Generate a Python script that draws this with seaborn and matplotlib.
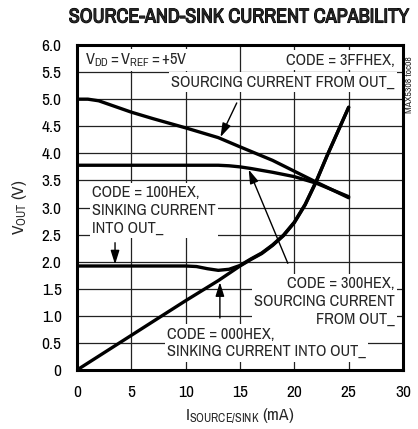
import matplotlib
matplotlib.use("Agg")
import matplotlib.pyplot as plt
import matplotlib.patheffects as pe
import seaborn as sns
import pandas as pd
from matplotlib import font_manager

# ---- data ----
i_3ff = [0, 1, 2, 3, 5, 7, 10, 13, 15, 18, 20, 22, 25]
v_3ff = [5.0, 5.0, 4.97, 4.9, 4.76, 4.64, 4.47, 4.29, 4.12, 3.87, 3.67, 3.47, 3.18]

i_300 = [0, 5, 10, 13, 14, 15, 16, 18, 20, 22, 25]
v_300 = [3.78, 3.78, 3.78, 3.78, 3.77, 3.75, 3.72, 3.65, 3.57, 3.45, 3.20]

i_100 = [0, 5, 10, 11, 12, 13, 14, 15, 16, 17, 18, 19, 20, 21, 22, 23, 24, 25]
v_100 = [1.92, 1.92, 1.92, 1.91, 1.87, 1.84, 1.86, 1.93, 2.05, 2.16, 2.31, 2.49, 2.73, 3.06, 3.48, 3.95, 4.4, 4.85]

i_000 = [0, 5, 10, 13, 15, 16, 17, 18, 19, 20, 21, 22, 23, 24, 25]
v_000 = [0.0, 0.64, 1.28, 1.65, 1.92, 2.04, 2.15, 2.30, 2.48, 2.72, 3.05, 3.47, 3.95, 4.4, 4.85]

x_ticks = [0, 5, 10, 15, 20, 25, 30]
y_ticks = [0, 0.5, 1.0, 1.5, 2.0, 2.5, 3.0, 3.5, 4.0, 4.5, 5.0, 5.5, 6.0]
y_tick_labels = ["0", "0.5", "1.0", "1.5", "2.0", "2.5", "3.0", "3.5", "4.0", "4.5", "5.0", "5.5", "6.0"]

frames = []
for name, i, v in [("3FF", i_3ff, v_3ff), ("300", i_300, v_300),
                   ("100", i_100, v_100), ("000", i_000, v_000)]:
    frames.append(pd.DataFrame({"I": i, "V": v, "code": name}))
df = pd.concat(frames, ignore_index=True)

sns.set_theme(style="white")

# pick a condensed face if one exists
fonts = font_manager.fontManager.ttflist
names = sorted({f.name for f in fonts})
base, stretch = None, "normal"
for n in names:
    if "Narrow" in n or "Condensed" in n:
        base = n
        break
if base is None:
    for f in fonts:
        if str(f.stretch) in ("condensed", "semi-condensed", "extra-condensed") or \
           (isinstance(f.stretch, int) and f.stretch < 500):
            base, stretch = f.name, "condensed"
            break
if base is None:
    base = "Roboto" if "Roboto" in names else "Liberation Sans"

plt.rcParams["font.family"] = [base, "DejaVu Sans"]
plt.rcParams["font.stretch"] = stretch
plt.rcParams["mathtext.fontset"] = "custom"
plt.rcParams["mathtext.rm"] = base
plt.rcParams["mathtext.it"] = base

fig = plt.figure(figsize=(4.18, 4.29), dpi=100)
ax = fig.add_axes([77 / 418, 1 - 370 / 429, 326 / 418, 325 / 429])
ax.set_axisbelow(True)

sns.lineplot(data=df, x="I", y="V", hue="code", units="code", estimator=None,
             palette={"3FF": "black", "300": "black", "100": "black", "000": "black"},
             linewidth=2.4, legend=False, ax=ax, sort=False, zorder=4)

ax.set_xlim(0, 30)
ax.set_ylim(0, 6)
ax.set_xticks(x_ticks)
ax.set_yticks(y_ticks)
ax.set_yticklabels(y_tick_labels)
ax.tick_params(axis="both", length=0, labelsize=12.5, colors="black")
ax.tick_params(axis="x", pad=11)
ax.tick_params(axis="y", pad=11)
ax.grid(True, color="#222222", linewidth=0.9)
for s in ax.spines.values():
    s.set_linewidth(2.2)
    s.set_color("black")
    s.set_visible(True)

ax.set_xlabel(r"$\mathregular{I_{SOURCE/SINK}}$ (mA)", fontsize=12.5, labelpad=4)
ax.set_ylabel(r"$\mathregular{V_{OUT}}$ (V)", fontsize=12.5, labelpad=9)

fig.text(239 / 418, 1 - 17 / 429, "SOURCE-AND-SINK CURRENT CAPABILITY",
         ha="center", va="center", fontsize=14.5, fontweight="bold",
         path_effects=[pe.withStroke(linewidth=0.8, foreground="black")])
fig.text(410 / 418, 1 - 85 / 429, "MAX5308 toc08", rotation=90,
         ha="center", va="center", fontsize=7)

box = dict(boxstyle="square,pad=0.15", fc="white", ec="none")
fs = 11.8
ls = 1.22
ax.text(0.74, 5.72, r"$\mathregular{V_{DD} = V_{REF} = +5V}$", fontsize=fs,
        ha="left", va="center", bbox=box, zorder=3)
ax.text(29.2, 5.72, "CODE = 3FFHEX,", fontsize=fs, ha="right", va="center", bbox=box, zorder=3)
ax.text(29.25, 5.32, "SOURCING CURRENT FROM OUT_", fontsize=fs, ha="right", va="center", bbox=box, zorder=3)

ax.text(1.38, 2.95, "CODE = 100HEX,\nSINKING CURRENT\nINTO OUT_", fontsize=fs,
        ha="left", va="center", linespacing=ls, bbox=box, zorder=3)
ax.text(29.25, 1.27, "CODE = 300HEX,\nSOURCING CURRENT\nFROM OUT_", fontsize=fs,
        ha="right", va="center", multialignment="right", linespacing=ls, bbox=box, zorder=3)
ax.text(8.28, 0.50, "CODE = 000HEX,\nSINKING CURRENT INTO OUT_", fontsize=fs,
        ha="left", va="center", linespacing=ls, bbox=box, zorder=3)

arrow = dict(arrowstyle="-|>,head_length=0.7,head_width=0.22", color="black", lw=1.0,
             shrinkA=0, shrinkB=0)
ax.annotate("", xy=(13.2, 4.3), xytext=(14.7, 4.93), arrowprops=arrow, zorder=5)
ax.annotate("", xy=(3.5, 1.95), xytext=(3.5, 2.35), arrowprops=arrow, zorder=5)
ax.annotate("", xy=(15.8, 3.70), xytext=(19.4, 1.97), arrowprops=arrow, zorder=5)
ax.annotate("", xy=(13.15, 1.62), xytext=(13.15, 0.96), arrowprops=arrow, zorder=5)

fig.savefig("out.png", dpi=100)
